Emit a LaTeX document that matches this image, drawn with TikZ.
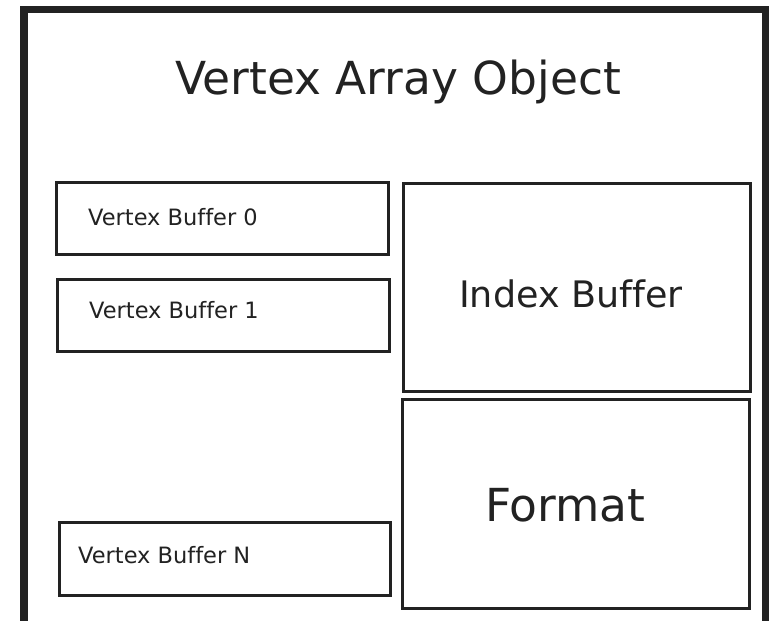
\documentclass[tikz,border=0pt]{standalone}
\usepackage{fontspec}
\setmainfont[Ligatures={NoCommon}]{DejaVu Sans}
\definecolor{ink}{HTML}{222222}
\begin{document}
\begin{tikzpicture}[x=1pt,y=-1pt,
  frame/.style={draw=ink,line width=7.5pt},
  part/.style={draw=ink,line width=3pt,rectangle,inner sep=0pt,outer sep=0pt,anchor=north west},
  lbl/.style={text=ink,inner sep=0pt,anchor=base west},
  small/.style={lbl,font=\fontsize{22.5}{27}\selectfont},
]
\useasboundingbox (0,0) rectangle (777,621);
\clip (0,0) rectangle (777,621);
\fill[white] (0,0) rectangle (777,621);

% outer container (open at the bottom edge)
\draw[frame] (24,640) -- (24,9.5) -- (765.5,9.5) -- (765.5,640);
\node[lbl,font=\fontsize{45.5}{54}\selectfont] (title) at (175,94) {Vertex Array Object};

% vertex buffers
\node[part,minimum width=332pt,minimum height=71.5pt] (vb0) at (56.5,182.5) {};
\node[part,minimum width=332pt,minimum height=72pt]   (vb1) at (57.5,279) {};
\node[part,minimum width=331pt,minimum height=73pt]   (vbn) at (59.5,522) {};
\node[small] (vb0t) at (88,225) {Vertex Buffer 0};
\node[small] (vb1t) at (89,318) {Vertex Buffer 1};
\node[small] (vbnt) at (78,563) {Vertex Buffer N};

% index buffer and format
\node[part,minimum width=347pt,minimum height=207.5pt] (ib) at (403.5,183.5) {};
\node[part,minimum width=347pt,minimum height=208.5pt] (fmt) at (402,399.5) {};
\node[lbl,font=\fontsize{36.5}{44}\selectfont] (ibt) at (459,307) {Index Buffer};
\node[lbl,font=\fontsize{45.5}{54}\selectfont] (fmtt) at (485,521) {Format};
\end{tikzpicture}
\end{document}
